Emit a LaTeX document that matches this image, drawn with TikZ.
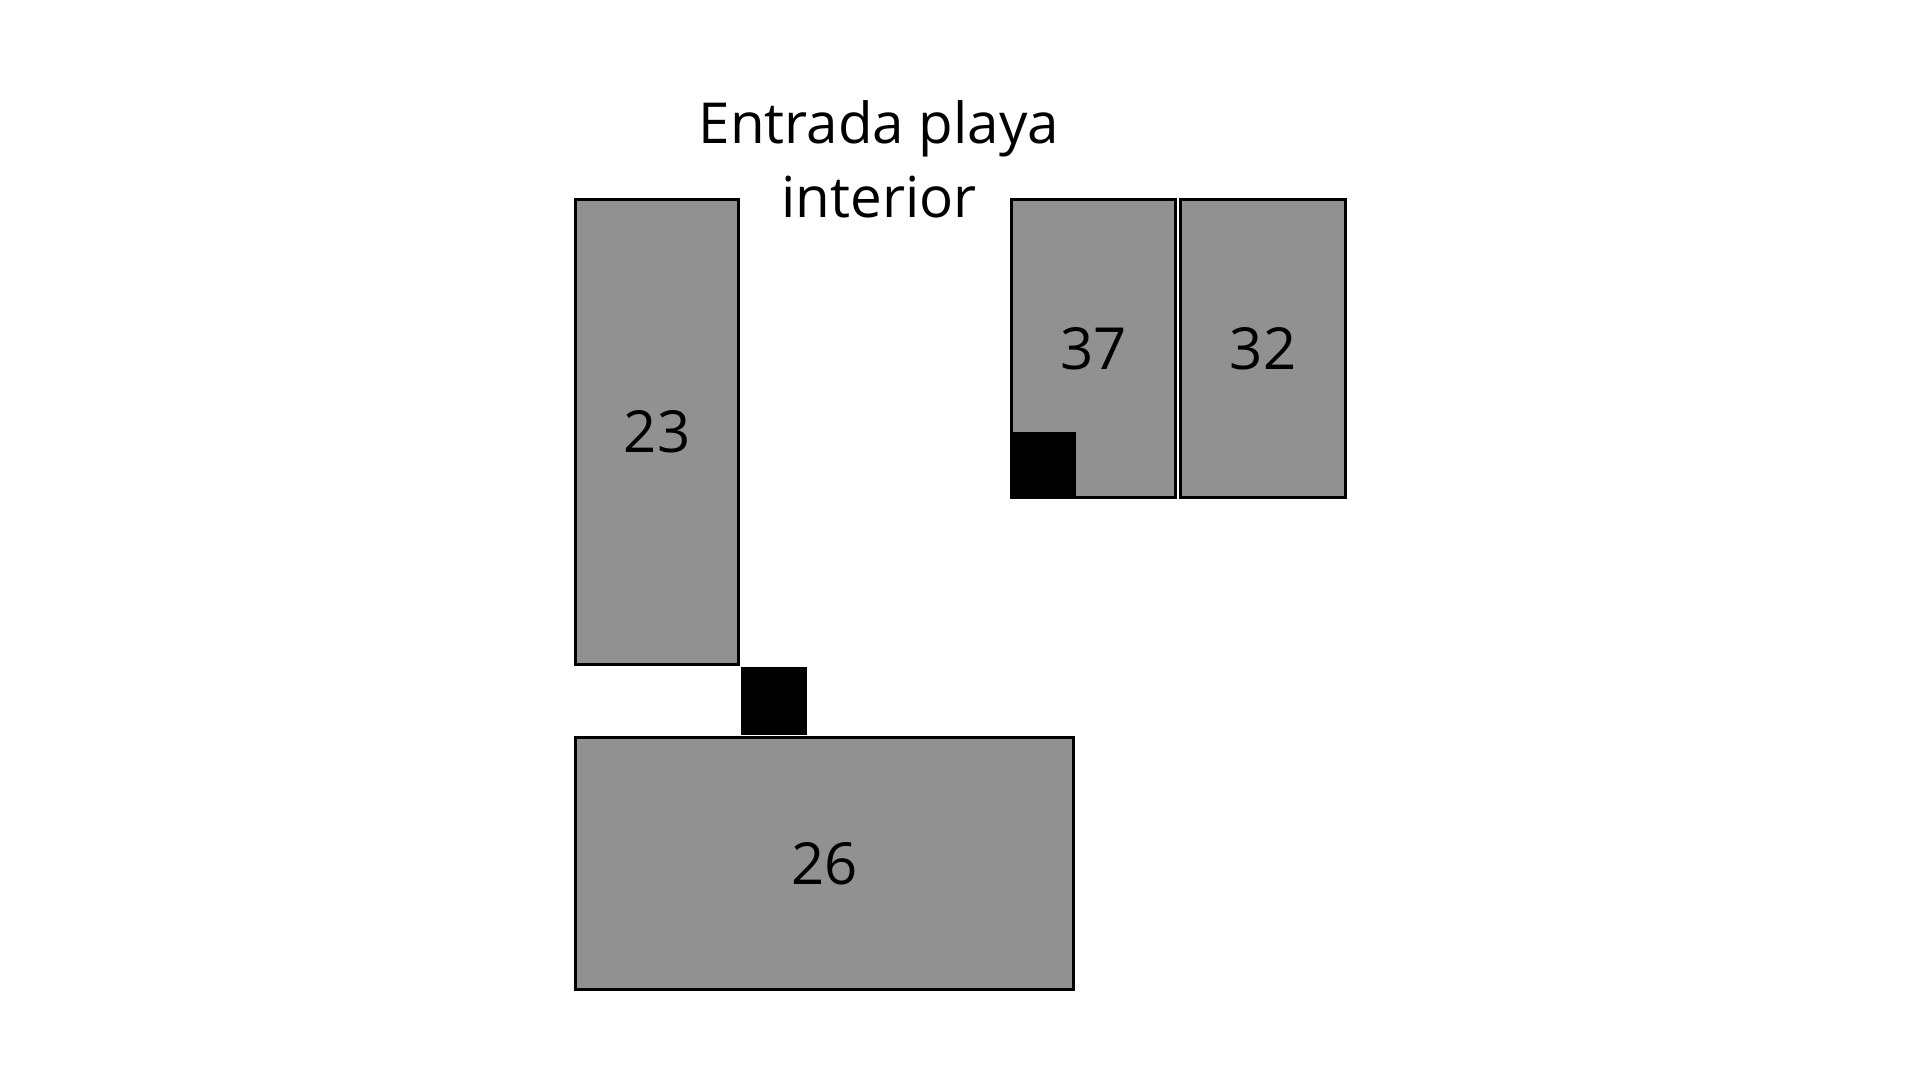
\documentclass[tikz,border=0pt]{standalone}
\usepackage{fontspec}
\setmainfont{Open Sans}
\usetikzlibrary{positioning}

\begin{document}
\begin{tikzpicture}[
  x=1pt, y=-1pt,
  lot/.style={rectangle, draw, line width=3pt, fill={rgb,255:red,145;green,145;blue,145}, inner sep=0pt, outer sep=0pt, anchor=north west, font=\fontsize{58}{70}\selectfont},
  door/.style={rectangle, fill=black, inner sep=0pt, outer sep=0pt, anchor=north west}
]
\useasboundingbox (0,0) rectangle (1920,1080);

% Nodes
\node (lot23) [lot, minimum width=163pt, minimum height=465pt] at (575.5,199.5) {23};
\node (lot26) [lot, minimum width=498pt, minimum height=252pt] at (575.5,737.5) {26};
\node (lot37) [lot, minimum width=164pt, minimum height=298pt] at (1011.5,199.5) {37};
\node (lot32) [lot, minimum width=165pt, minimum height=298pt, right=5pt of lot37] {32};

% Entrances
\node (door23) [door, minimum width=66pt, minimum height=68pt] at (741,667) {};
\node (door37) [door, minimum width=65pt, minimum height=65pt] at (1011,432) {};

% Title
\node (entrada) [align=center, font=\fontsize{56.5}{74}\selectfont, anchor=base] at (879,217) {Entrada playa\\interior};

\end{tikzpicture}
\end{document}
